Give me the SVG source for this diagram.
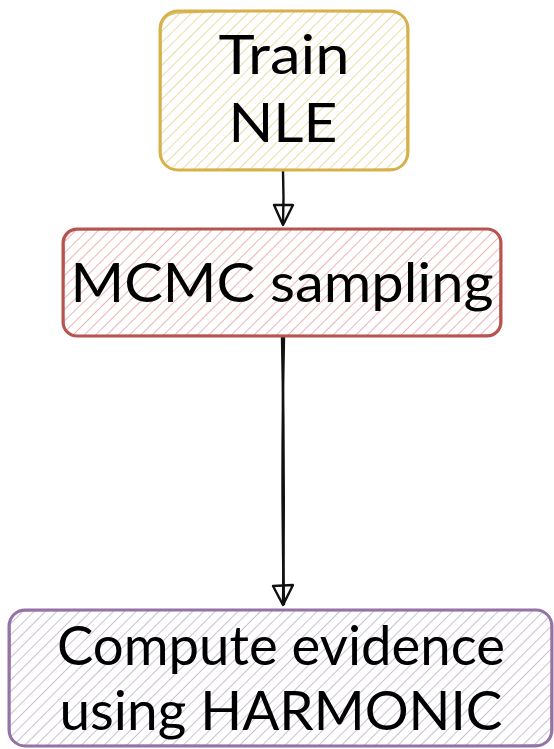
<svg xmlns="http://www.w3.org/2000/svg" width="554" height="749" viewBox="0 0 554 749">
  <style>
    .label { font-family: Lato, "Open Sans", "DejaVu Sans", sans-serif; font-size: 54px; fill: #000000; text-anchor: middle; }
    .edge { fill: none; stroke: #111111; stroke-width: 2.4; stroke-linecap: round; stroke-linejoin: round; }
    .box { stroke-width: 3; stroke-linejoin: round; }
    .box2 { fill: none; stroke-width: 1.5; opacity: 0.8; }
  </style>
  <defs>
    <pattern id="hatch-yellow" width="8" height="8" patternUnits="userSpaceOnUse" patternTransform="rotate(45)">
      <line x1="0" y1="0" x2="0" y2="8" stroke="#ebdca4" stroke-width="2"/>
    </pattern>
    <pattern id="hatch-red" width="8" height="8" patternUnits="userSpaceOnUse" patternTransform="rotate(45)">
      <line x1="0" y1="0" x2="0" y2="8" stroke="#ecb5b3" stroke-width="2"/>
    </pattern>
    <pattern id="hatch-purple" width="8" height="8" patternUnits="userSpaceOnUse" patternTransform="rotate(45)">
      <line x1="0" y1="0" x2="0" y2="8" stroke="#cbbfd4" stroke-width="2"/>
    </pattern>
  </defs>

  <rect width="554" height="749" fill="#ffffff"/>

  <!-- connectors -->
  <g id="connectors">
    <path class="edge" d="M283 171 Q284 198 283 224"/>
    <path class="edge" d="M274 205 L283 225 L293 205 Z"/>
    <path class="edge" d="M282 337 Q285 470 283 604"/>
    <path class="edge" d="M284 337 Q281 480 284 604"/>
    <path class="edge" d="M273 586 L283 605 L293 585 Z"/>
  </g>

  <!-- Train NLE -->
  <g id="train-nle">
    <rect class="box" x="160" y="11" width="248" height="159" rx="18" fill="url(#hatch-yellow)" stroke="#d6b14c"/>
    <path class="box2" stroke="#d6b14c" d="M178 13 C260 9 330 12 392 12 Q408 14 407 30 C409 80 406 120 407 152 Q406 170 390 169 C320 171 240 168 177 170 Q161 168 161 152 C160 100 162 60 161 30 Q162 14 178 13 Z"/>
    <text class="label" x="284" y="74" textLength="131" lengthAdjust="spacingAndGlyphs">Train</text>
    <text class="label" x="283" y="142" textLength="109" lengthAdjust="spacingAndGlyphs">NLE</text>
  </g>

  <!-- MCMC sampling -->
  <g id="mcmc-sampling">
    <rect class="box" x="63" y="229" width="438" height="107" rx="14" fill="url(#hatch-red)" stroke="#b85450"/>
    <path class="box2" stroke="#b85450" d="M77 230 C200 227 380 231 488 229 Q501 231 500 244 C501 280 499 305 500 322 Q499 336 486 335 C380 337 200 334 76 336 Q64 334 64 322 C63 290 65 260 64 243 Q65 231 77 230 Z"/>
    <text class="label" x="282" y="302" textLength="423" lengthAdjust="spacingAndGlyphs">MCMC sampling</text>
  </g>

  <!-- Compute evidence using HARMONIC -->
  <g id="compute-evidence">
    <rect class="box" x="9" y="610" width="543" height="136" rx="16" fill="url(#hatch-purple)" stroke="#9673a6"/>
    <path class="box2" stroke="#9673a6" d="M25 611 C160 608 400 612 537 610 Q551 612 551 626 C552 670 550 710 551 730 Q550 745 535 745 C400 747 160 744 24 746 Q10 744 10 730 C9 690 11 650 10 626 Q11 611 25 611 Z"/>
    <text class="label" x="281" y="665" textLength="448" lengthAdjust="spacingAndGlyphs">Compute evidence</text>
    <text class="label" x="281" y="730" textLength="443" lengthAdjust="spacingAndGlyphs">using HARMONIC</text>
  </g>
</svg>
